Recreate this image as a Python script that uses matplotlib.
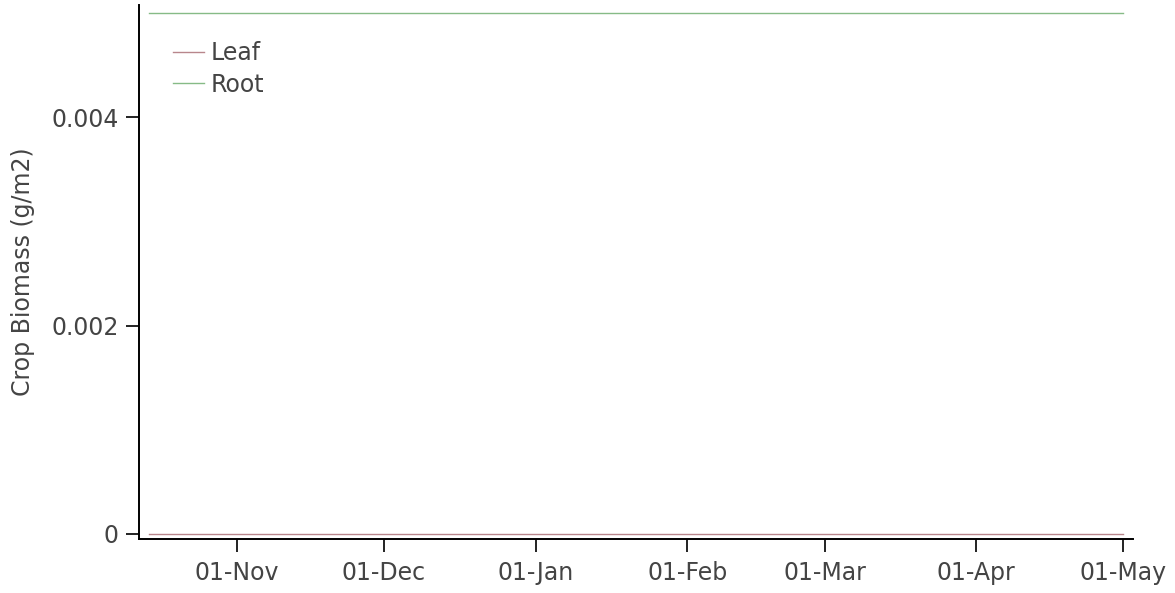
import datetime as dt
import matplotlib
matplotlib.use("Agg")
import matplotlib.pyplot as plt
import matplotlib.dates as mdates

# series data
start_date = dt.date(2010, 10, 14)
end_date = dt.date(2011, 5, 1)
dates = [start_date + dt.timedelta(days=i) for i in range((end_date - start_date).days + 1)]
leaf = [0.0] * len(dates)
root = [0.005] * len(dates)

series_names = ["Leaf", "Root"]
series_colors = ["#b8868c", "#86bb86"]

plt.rcParams['font.family'] = ['DejaVu Sans']
fig = plt.figure(figsize=(11.75, 5.93), dpi=100)
ax = fig.add_axes([0.1183, 0.0911, 0.846, 0.9005])

ax.plot(dates, leaf, color=series_colors[0], lw=1, label=series_names[0])
ax.plot(dates, root, color=series_colors[1], lw=1, label=series_names[1])

ax.set_xlim(dt.date(2010, 10, 12), dt.date(2011, 5, 3))
ax.set_ylim(-0.000048, 0.005077)
ax.set_yticks([0, 0.002, 0.004])
ax.set_yticklabels(["0", "0.002", "0.004"])
ax.xaxis.set_major_locator(mdates.MonthLocator())
ax.xaxis.set_major_formatter(mdates.DateFormatter("%d-%b"))

for s in ["top", "right"]:
    ax.spines[s].set_visible(False)
for s in ["left", "bottom"]:
    ax.spines[s].set_linewidth(1.4)
ax.tick_params(direction="out", length=9.5, width=1.4, labelsize=17, colors="#222222",
               labelcolor="#444444", pad=6)
ax.tick_params(axis="y", pad=5)
ax.set_ylabel("Crop Biomass (g/m2)", fontsize=17, color="#444444", labelpad=12)

ax.legend(loc="upper left", bbox_to_anchor=(0.025, 0.95), frameon=False, fontsize=17,
          handlelength=1.3, handletextpad=0.3, labelspacing=0.32, borderaxespad=0,
          labelcolor="#444444")

fig.savefig("out.png", dpi=100)
